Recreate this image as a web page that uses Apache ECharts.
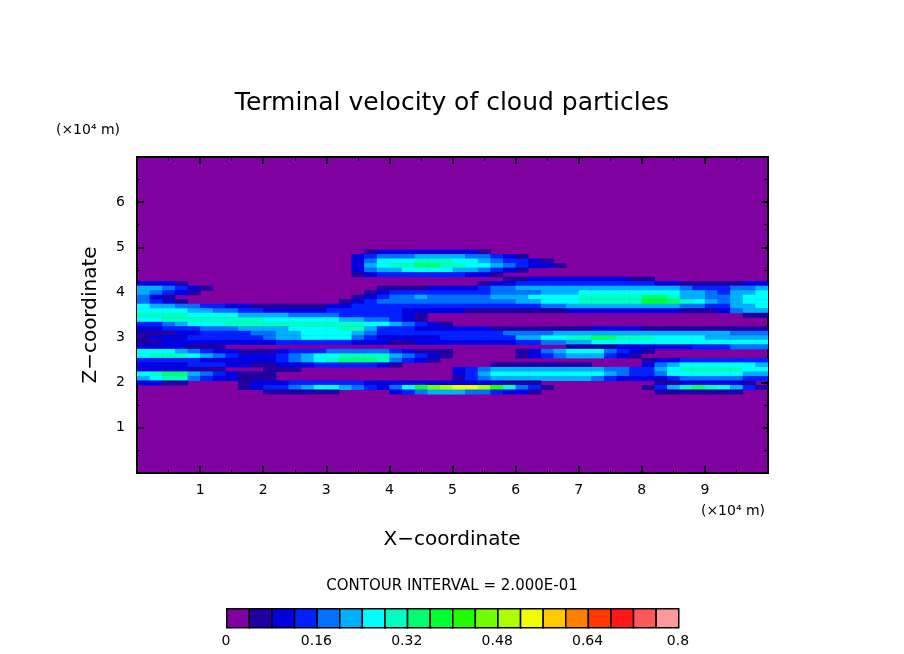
<!DOCTYPE html>
<html><head><meta charset="utf-8">
<script src="https://cdn.jsdelivr.net/npm/echarts@6/dist/echarts.min.js"></script>
<style>html,body{margin:0;background:#fff}#c{width:904px;height:654px}</style>
</head><body><div id="c"></div>
<script>
// level colours (each step 0.04)
const levelColors = ['#8000a0','#2000a0','#0000e0','#0020ff','#0070ff','#00b0ff','#00ffff','#00ffc0','#00ff70','#00ff30',
  '#20ff00','#70ff00','#b0ff00','#f0ff00','#ffc800','#ff8000','#ff3800','#ff1818','#ff5858','#ff9898'];
const barLabels = ['0','0.16','0.32','0.48','0.64','0.8'];
const xTicks = [1,2,3,4,5,6,7,8,9];
const zTicks = [1,2,3,4,5,6];
// field rows, z from 5.0 down to 1.7 (step 0.1); columns x = 0.1,0.3,...,9.9; char = level (0-9,a-j)
const zTop = 5.0;
const fieldRows = [
"0000000000 0000000000 0000000000 0000000000 0000000000",
"0000000000 0000000012 2222222100 0000000000 0000000000",
"0000000000 0000000234 4455554432 1000000000 0000000000",
"0000000000 0000000246 6677766543 3210000000 0000000000",
"0000000000 0000000256 7788776654 3221000000 0000000000",
"0000000000 0000000245 5666655432 1000000000 0000000000",
"0000000000 0000000123 3333332210 0000000000 0000000000",
"0000000000 0000000000 0000000001 1222222221 1000000000",
"2221000000 0000000000 0000000122 3333333333 3221111122",
"5543210000 0000000001 1112222344 5555555555 5554333445",
"5432100000 0000000012 3333333344 4455566666 6665543556",
"4210000000 0000000123 4454444455 5666677777 8875544566",
"4321000000 0000001234 4444444444 5566677777 9987654566",
"6554433221 1111122333 3333333333 3344555555 5554433556",
"6666554433 2222233333 3222221111 1111222222 2221112455",
"7777666655 5544443333 3210000000 0000000000 0000000011",
"6677777777 6666665544 3210000000 0000000000 0000000000",
"3345666777 7777777766 5432100000 0000000000 0000000000",
"2233344455 5566667753 3322222211 1111112222 1111111111",
"1112233334 4556666543 3333333334 4445555555 5555555444",
"1222333333 4556666432 2222333333 5566778877 7666655555",
"1122222222 2333333222 1122222222 3344556666 6666666666",
"2222111000 0000000000 0000000000 0000111122 2222333444",
"6665432211 1233344444 3211100000 1245666432 1000000000",
"6777654322 2345667777 5432100000 1234555321 0000000000",
"3333322222 2345678887 4321000000 0000000000 1223333333",
"2222333221 1222333332 1000000011 1111110000 2456666665",
"2222111000 1110000000 0000023455 5555555443 3567777766",
"6788543211 1000000000 0000023566 6666666543 3466666655",
"5677432211 1000000000 0000013455 5555554322 2234444433",
"2211000012 2233333322 2222222221 1100000000 0112222210",
"0000000012 3345665432 469bcddca7 4310000000 1357876531",
"0000000000 1111110000 2345554432 2100000000 0111111100",
"0000000000 0000000000 0000000000 0000000000 0000000000"
];
const cells = [];
fieldRows.forEach((row, r) => {
  const s = row.replace(/ /g, '');
  for (let i = 0; i < s.length; i++) {
    const lv = parseInt(s[i], 20);
    if (lv > 0) cells.push([0.1 + 0.2 * i, +(zTop - 0.1 * r).toFixed(2), lv]);
  }
});

const chart = echarts.init(document.getElementById('c'));
const F = 'DejaVu Sans';
const gl = 137, gt = 157, gw = 631, gh = 316;
const mkAxis = (extra) => Object.assign({
  type: 'value',
  axisLine: {show: true, onZero: false, lineStyle: {color: '#000', width: 2}},
  axisTick: {show: true, inside: true, length: 7, lineStyle: {color: '#000', width: 2}},
  minorTick: {show: true, splitNumber: 2, length: 4, lineStyle: {color: '#000', width: 1}},
  splitLine: {show: false}
}, extra);
const fmt = list => v => list.includes(Math.round(v)) && Math.abs(v - Math.round(v)) < 1e-6 ? String(Math.round(v)) : '';
const barX0 = 226, barW = 452, barY = 608, barH = 19;
const graphics = [];
levelColors.forEach((c, i) => graphics.push({type: 'rect', left: barX0 + i * barW / 20, top: barY,
  shape: {width: barW / 20, height: barH}, style: {fill: c, stroke: '#000', lineWidth: 1.5}}));
barLabels.forEach((t, i) => graphics.push({type: 'text', x: barX0 + i * barW / 5, y: 641,
  style: {text: t, font: '14px ' + F, fill: '#000', textAlign: 'center', textVerticalAlign: 'middle'}}));
graphics.push({type: 'text', x: 452, y: 586, style: {text: 'CONTOUR INTERVAL = 2.000E-01', font: '15px ' + F, fill: '#000', textAlign: 'center', textVerticalAlign: 'middle'}});
graphics.push({type: 'text', x: 88, y: 130, style: {text: '(×10⁴ m)', font: '14px ' + F, fill: '#000', textAlign: 'center', textVerticalAlign: 'middle'}});
graphics.push({type: 'text', x: 733, y: 511, style: {text: '(×10⁴ m)', font: '14px ' + F, fill: '#000', textAlign: 'center', textVerticalAlign: 'middle'}});
graphics.push({type: 'text', x: 452, y: 540, style: {text: 'X−coordinate', font: '20px ' + F, fill: '#000', textAlign: 'center', textVerticalAlign: 'middle'}});
graphics.push({type: 'text', x: 91, y: 315, rotation: Math.PI / 2, style: {text: 'Z−coordinate', font: '20px ' + F, fill: '#000', textAlign: 'center', textVerticalAlign: 'middle'}});

chart.setOption({
  animation: false,
  title: {text: 'Terminal velocity of cloud particles', left: 'center', top: 86,
    textStyle: {fontFamily: F, fontWeight: 'normal', fontSize: 25, color: '#000'}},
  grid: {left: gl, top: gt, width: gw, height: gh, show: true, backgroundColor: levelColors[0], borderColor: '#000', borderWidth: 2},
  xAxis: [
    mkAxis({min: 0, max: 10, interval: 1, position: 'bottom',
      axisLabel: {formatter: fmt(xTicks), fontFamily: F, fontSize: 14, color: '#000', margin: 10}}),
    mkAxis({min: 0, max: 10, interval: 1, position: 'top', axisLabel: {show: false}})
  ],
  yAxis: [
    mkAxis({min: 0, max: 7, interval: 1, position: 'left',
      axisLabel: {formatter: fmt(zTicks), fontFamily: F, fontSize: 14, color: '#000', margin: 12}}),
    mkAxis({min: 0, max: 7, interval: 1, position: 'right', axisLabel: {show: false}})
  ],
  series: [{
    type: 'custom', coordinateSystem: 'cartesian2d', data: cells, clip: true, z: 1,
    renderItem: (params, api) => {
      const x = api.value(0), z = api.value(1), lv = api.value(2);
      const p0 = api.coord([x - 0.1, z + 0.05]), p1 = api.coord([x + 0.1, z - 0.05]);
      return {type: 'rect', shape: {x: p0[0], y: p0[1], width: p1[0] - p0[0] + 0.5, height: p1[1] - p0[1] + 0.5},
        style: {fill: levelColors[lv]}};
    }
  }],
  graphic: graphics
});
</script></body></html>
